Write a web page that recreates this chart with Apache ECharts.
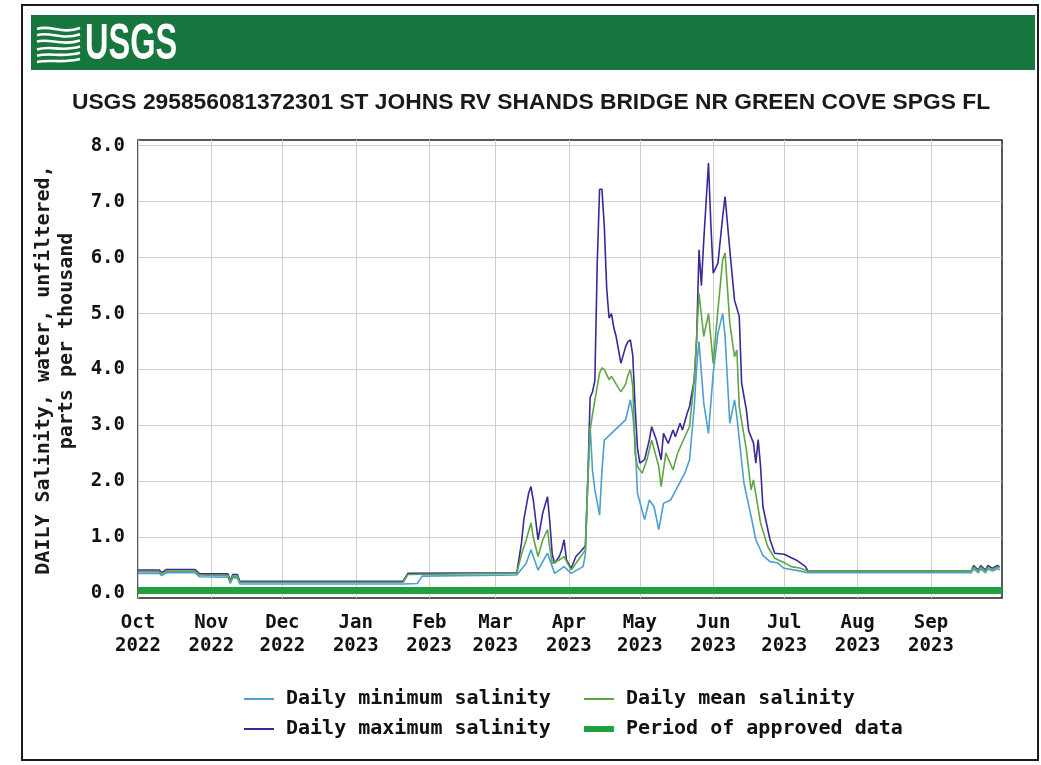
<!DOCTYPE html>
<html>
<head>
<meta charset="utf-8">
<script src="https://cdn.jsdelivr.net/npm/echarts@6/dist/echarts.min.js"></script>
<style>
html,body{margin:0;padding:0;background:#ffffff;}
#chart{width:1041px;height:765px;}
</style>
</head>
<body>
<div id="chart"></div>
<script>
// x values are day offsets from 1 Oct 2022
const monthTickDays = [0, 31, 61, 92, 123, 151, 182, 212, 243, 273, 304, 335];
const monthLabels = ['Oct\n2022','Nov\n2022','Dec\n2022','Jan\n2023','Feb\n2023','Mar\n2023',
                     'Apr\n2023','May\n2023','Jun\n2023','Jul\n2023','Aug\n2023','Sep\n2023'];
const yTicks = [0, 1, 2, 3, 4, 5, 6, 7, 8];

const seriesNames = ['Daily minimum salinity', 'Daily mean salinity', 'Daily maximum salinity', 'Period of approved data'];

const maxDays = [0,9,10,12,24,26,38,39,40,42,43,112,114,160,162,163,165,166,167,169,171,173,174,175,176,178,179,180,181,183,185,187,189,190,191,192,193,194,195,196,197,198,199,200,201,202,203,204,206,207,208,209,210,211,212,214,216,217,219,221,222,224,226,227,229,230,232,233,235,236,237,238,239,241,242,243,245,247,248,250,252,254,255,257,258,260,261,262,263,264,267,269,273,276,278,282,283,352,353,355,356,358,359,361,363,364];
const maxVals = [0.42,0.42,0.37,0.43,0.43,0.35,0.35,0.23,0.34,0.34,0.22,0.22,0.36,0.37,0.9,1.32,1.79,1.91,1.67,0.96,1.44,1.73,1.26,0.7,0.54,0.66,0.78,0.96,0.6,0.45,0.66,0.75,0.85,2.0,3.5,3.6,3.8,5.9,7.22,7.22,6.55,5.45,4.92,5.0,4.75,4.59,4.35,4.11,4.41,4.5,4.53,4.26,3.34,2.6,2.33,2.39,2.74,2.98,2.74,2.39,2.86,2.68,2.92,2.8,3.04,2.92,3.22,3.34,3.82,4.53,6.14,5.5,6.3,7.69,6.6,5.72,5.9,6.73,7.09,6.14,5.24,4.95,3.76,3.28,2.9,2.69,2.33,2.75,2.27,1.55,0.96,0.72,0.7,0.64,0.6,0.48,0.4,0.4,0.5,0.42,0.5,0.42,0.5,0.45,0.5,0.48];

const meanDays = [0,9,10,12,24,26,38,39,40,42,43,112,114,160,162,164,166,167,169,171,173,174,175,178,180,183,186,189,190,191,192,193,195,196,197,199,200,202,204,206,207,208,209,210,211,213,215,217,220,221,223,226,228,231,233,235,237,239,241,243,245,247,248,250,252,253,254,257,259,260,263,266,269,273,276,280,283,352,353,355,356,358,359,361,363,364];
const meanVals = [0.39,0.39,0.35,0.40,0.40,0.33,0.32,0.21,0.31,0.31,0.20,0.20,0.34,0.36,0.7,0.96,1.26,1.0,0.66,0.96,1.14,0.8,0.54,0.6,0.66,0.42,0.6,0.78,2.0,2.92,3.2,3.45,3.94,4.03,4.0,3.82,3.88,3.74,3.6,3.74,3.9,4.0,3.7,2.5,2.27,2.15,2.39,2.74,2.27,1.91,2.51,2.21,2.51,2.8,2.98,3.82,5.36,4.59,5.0,4.11,5.07,5.96,6.08,4.83,4.23,4.35,3.34,2.57,1.85,2.03,1.26,0.84,0.63,0.55,0.48,0.45,0.40,0.40,0.47,0.40,0.47,0.40,0.47,0.43,0.47,0.45];

const minDays = [0,9,10,12,24,26,38,39,40,42,43,112,118,120,160,164,166,169,173,176,180,183,188,189,190,191,192,193,195,196,197,200,203,206,208,209,210,211,214,216,218,220,222,225,228,231,233,235,236,237,239,241,243,245,247,248,250,252,253,256,259,261,264,267,270,273,280,283,352,353,355,356,358,359,361,363,364];
const minVals = [0.36,0.36,0.32,0.37,0.37,0.30,0.29,0.18,0.28,0.28,0.17,0.17,0.18,0.31,0.33,0.54,0.78,0.42,0.72,0.36,0.48,0.36,0.48,0.7,2.0,3.0,2.2,1.85,1.4,2.2,2.74,2.86,2.98,3.1,3.46,3.2,2.74,1.79,1.32,1.67,1.55,1.14,1.61,1.67,1.91,2.15,2.39,3.34,4.05,4.5,3.4,2.86,3.94,4.65,5.0,4.6,3.04,3.46,3.16,1.97,1.38,0.96,0.68,0.57,0.55,0.45,0.40,0.37,0.37,0.44,0.37,0.44,0.37,0.44,0.4,0.44,0.42];

const approvedDays = [0, 365];
const approvedVals = [0.055, 0.055];

function pairs(days, vals) { return days.map((d, i) => [d, vals[i]]); }

const monoFont = '"DejaVu Sans Mono", "Liberation Mono", monospace';
const colors = { min: '#4b9fd1', mean: '#5fa645', max: '#37299a', approved: '#20a03e' };
const thinIcon = 'path://M0,0H30V2H0Z';
const thickIcon = 'path://M0,0H30V6H0Z';

const chart = echarts.init(document.getElementById('chart'), null, { renderer: 'canvas' });

// wave strokes for the logo
const waveLines = [];
for (let i = 0; i < 6; i++) {
  const y = 29 + i * 6.2;
  waveLines.push({
    type: 'bezierCurve',
    shape: { x1: 37, y1: y + (i > 2 ? 2 : 0), cpx1: 50, cpy1: y - 5 + i * 0.8, cpx2: 62, cpy2: y + 6 - i * 0.5, x2: 80, y2: y - 1 },
    style: { stroke: '#ffffff', lineWidth: 2.6, fill: null },
    silent: true
  });
}

const legendText = { fontFamily: monoFont, fontWeight: 'bold', fontSize: 20, color: '#111', padding: [0, 0, 0, 7] };

const option = {
  backgroundColor: '#ffffff',
  animation: false,
  graphic: [
    { type: 'rect', shape: { x: 22, y: 5, width: 1016, height: 755 }, style: { fill: '#ffffff', stroke: '#1c1c1c', lineWidth: 2 }, z: -10, silent: true },
    { type: 'rect', shape: { x: 31, y: 15, width: 1004, height: 55 }, style: { fill: '#17753e' }, z: -5, silent: true },
    ...waveLines,
    { type: 'text', x: 85, y: 45, scaleX: 0.65, style: { text: 'USGS', font: 'bold 50px "Liberation Sans", Arial, sans-serif', fill: '#ffffff', align: 'left', verticalAlign: 'middle' }, silent: true },
    { type: 'text', x: 531, y: 103, style: { text: 'USGS 295856081372301 ST JOHNS RV SHANDS BRIDGE NR GREEN COVE SPGS FL', font: 'bold 22.8px "Liberation Sans", Arial, sans-serif', fill: '#1a1a1a', align: 'center', verticalAlign: 'middle' }, silent: true },
    { type: 'text', x: 44, y: 370, rotation: Math.PI / 2, style: { text: 'DAILY Salinity, water, unfiltered,', font: 'bold 20px ' + monoFont, fill: '#1a1a1a', align: 'center', verticalAlign: 'middle' }, silent: true },
    { type: 'text', x: 67, y: 341, rotation: Math.PI / 2, style: { text: 'parts per thousand', font: 'bold 20px ' + monoFont, fill: '#1a1a1a', align: 'center', verticalAlign: 'middle' }, silent: true }
  ],
  legend: [
    {
      data: [{ name: seriesNames[0], icon: thinIcon }, { name: seriesNames[1], icon: thinIcon }],
      left: 244, top: 689, padding: 0, itemGap: 33, itemWidth: 30, itemHeight: 14,
      selectedMode: false, textStyle: legendText
    },
    {
      data: [{ name: seriesNames[2], icon: thinIcon }, { name: seriesNames[3], icon: thickIcon }],
      left: 244, top: 719, padding: 0, itemGap: 33, itemWidth: 30, itemHeight: 14,
      selectedMode: false, textStyle: legendText
    }
  ],
  grid: {
    left: 138, top: 140, width: 864, height: 458,
    show: true, borderColor: '#222', borderWidth: 1.5, backgroundColor: '#ffffff'
  },
  xAxis: {
    type: 'value', min: 0, max: 365,
    axisLine: { show: false },
    axisTick: { show: false, customValues: monthTickDays },
    splitLine: { show: true, lineStyle: { color: '#d8cbcb', width: 1 } },
    axisLabel: {
      customValues: monthTickDays,
      formatter: (v) => monthLabels[monthTickDays.indexOf(v)] || '',
      fontFamily: monoFont, fontWeight: 'bold', fontSize: 19, lineHeight: 23, color: '#111', margin: 14
    }
  },
  yAxis: {
    type: 'value', min: -0.08, max: 8.1,
    axisLine: { show: false },
    axisTick: { show: false, customValues: yTicks },
    splitLine: { show: true, lineStyle: { color: '#d8cbcb', width: 1 } },
    axisLabel: {
      customValues: yTicks,
      formatter: (v) => v.toFixed(1),
      fontFamily: monoFont, fontWeight: 'bold', fontSize: 19, color: '#111', margin: 13
    }
  },
  series: [
    { name: seriesNames[3], type: 'line', data: pairs(approvedDays, approvedVals), symbol: 'none', lineStyle: { color: colors.approved, width: 7 }, itemStyle: { color: colors.approved }, z: 1 },
    { name: seriesNames[2], type: 'line', data: pairs(maxDays, maxVals), symbol: 'none', lineStyle: { color: colors.max, width: 1.6 }, itemStyle: { color: colors.max }, z: 2 },
    { name: seriesNames[0], type: 'line', data: pairs(minDays, minVals), symbol: 'none', lineStyle: { color: colors.min, width: 1.6 }, itemStyle: { color: colors.min }, z: 3 },
    { name: seriesNames[1], type: 'line', data: pairs(meanDays, meanVals), symbol: 'none', lineStyle: { color: colors.mean, width: 1.6 }, itemStyle: { color: colors.mean }, z: 4 }
  ]
};
chart.setOption(option);
</script>
</body>
</html>
